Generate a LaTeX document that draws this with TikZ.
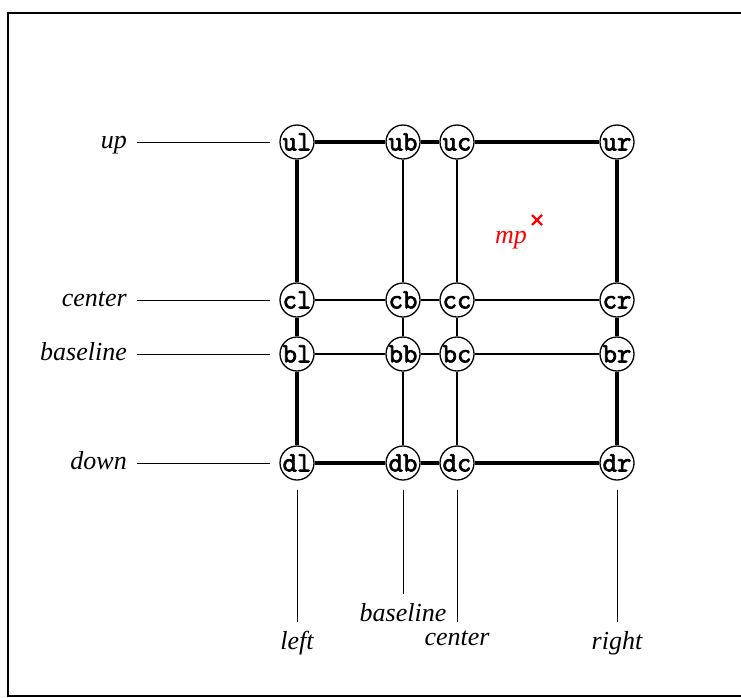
\documentclass[tikz,border=0pt]{standalone}
\usepackage{fontspec}
\setmainfont{Liberation Serif}
\newfontfamily\nodefont[FakeBold=2.5]{Latin Modern Mono}
\newcommand\ptxt[1]{\makebox[0pt]{\smash{\raisebox{-0.3em}{#1}}}}
\begin{document}
\begin{tikzpicture}[x=1pt,y=-1pt,
  pt/.style={circle, draw, line width=1.3pt, minimum size=34pt, inner sep=0pt, fill=white,
    font=\fontsize{28}{28}\nodefont},
  lab/.style={inner sep=0pt, font=\fontsize{26}{30}\selectfont\itshape},
  thickln/.style={line width=3.2pt},
  thinln/.style={line width=1.3pt},
  guide/.style={line width=1pt},
  frame/.style={line width=2.2pt}]
\useasboundingbox (0,0) rectangle (741,697);
\draw[frame] (8,13) rectangle (760,696);
% grid nodes
\node[pt] (ul) at (297,142) {\ptxt{ul}};
\node[pt] (ub) at (403,142) {\ptxt{ub}};
\node[pt] (uc) at (457,142) {\ptxt{uc}};
\node[pt] (ur) at (617,142) {\ptxt{ur}};
\node[pt] (cl) at (297,300) {\ptxt{cl}};
\node[pt] (cb) at (403,300) {\ptxt{cb}};
\node[pt] (cc) at (457,300) {\ptxt{cc}};
\node[pt] (cr) at (617,300) {\ptxt{cr}};
\node[pt] (bl) at (297,354) {\ptxt{bl}};
\node[pt] (bb) at (403,354) {\ptxt{bb}};
\node[pt] (bc) at (457,354) {\ptxt{bc}};
\node[pt] (br) at (617,354) {\ptxt{br}};
\node[pt] (dl) at (297,463) {\ptxt{dl}};
\node[pt] (db) at (403,463) {\ptxt{db}};
\node[pt] (dc) at (457,463) {\ptxt{dc}};
\node[pt] (dr) at (617,463) {\ptxt{dr}};
% thick outline
\draw[thickln] (ul) -- (ub) (ub) -- (uc) (uc) -- (ur);
\draw[thickln] (dl) -- (db) (db) -- (dc) (dc) -- (dr);
\draw[thickln] (ul) -- (cl) (cl) -- (bl) (bl) -- (dl);
\draw[thickln] (ur) -- (cr) (cr) -- (br) (br) -- (dr);
% thin inner lines
\draw[thinln] (ub) -- (cb) (cb) -- (bb) (bb) -- (db);
\draw[thinln] (uc) -- (cc) (cc) -- (bc) (bc) -- (dc);
\draw[thinln] (cl) -- (cb) (cb) -- (cc) (cc) -- (cr);
\draw[thinln] (bl) -- (bb) (bb) -- (bc) (bc) -- (br);
% left labels
\node[lab, anchor=base east] (lu) at (127,148) {up};
\node[lab, anchor=base east] (lc) at (127,306) {center};
\node[lab, anchor=base east] (lb) at (127,360) {baseline};
\node[lab, anchor=base east] (ld) at (127,469) {down};
\draw[guide] (137,142) -- ([xshift=-9pt]ul.west);
\draw[guide] (137,300) -- ([xshift=-9pt]cl.west);
\draw[guide] (137,354) -- ([xshift=-9pt]bl.west);
\draw[guide] (137,463) -- ([xshift=-9pt]dl.west);
% bottom labels
\node[lab, anchor=north] (tl) at (297,631) {left};
\node[lab, anchor=north] (tb) at (403,603) {baseline};
\node[lab, anchor=north] (tc) at (457,631) {center};
\node[lab, anchor=north] (tr) at (617,631) {right};
\draw[guide] ([yshift=-9pt]dl.south) -- ([yshift=9pt]tl.north);
\draw[guide] ([yshift=-9pt]db.south) -- ([yshift=9pt]tb.north);
\draw[guide] ([yshift=-9pt]dc.south) -- ([yshift=9pt]tc.north);
\draw[guide] ([yshift=-9pt]dr.south) -- ([yshift=9pt]tr.north);
% mp
\coordinate (mp) at (537,220);
\draw[red, line width=2.4pt] ([shift={(-5,-5)}]mp) -- ([shift={(5,5)}]mp)
  ([shift={(-5,5)}]mp) -- ([shift={(5,-5)}]mp);
\node[lab, red, anchor=base east] (mpl) at (527,243) {mp};
\end{tikzpicture}
\end{document}
